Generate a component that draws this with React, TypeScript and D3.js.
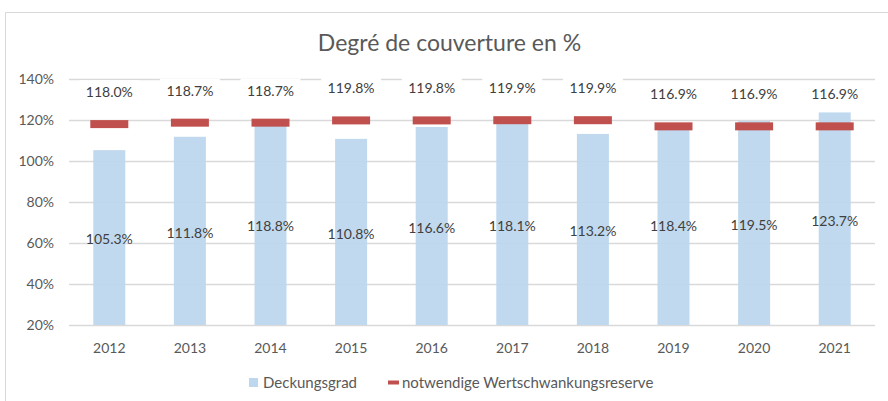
import React from "react";
import * as d3 from "d3";

const years = ["2012", "2013", "2014", "2015", "2016", "2017", "2018", "2019", "2020", "2021"];
const deckungsgrad = [105.3, 111.8, 118.8, 110.8, 116.6, 118.1, 113.2, 118.4, 119.5, 123.7];
const reserve = [118.0, 118.7, 118.7, 119.8, 119.8, 119.9, 119.9, 116.9, 116.9, 116.9];
const yTicks = [20, 40, 60, 80, 100, 120, 140];

const W = 888;
const H = 401;
const FONT = "Lato, 'Open Sans', sans-serif";
const TEXT = "#595959";

export default function App() {
  const x = d3.scaleBand<string>().domain(years).range([69, 875]).paddingInner(0).paddingOuter(0);
  const y = d3.scaleLinear().domain([20, 140]).range([325, 79]);
  const step = x.bandwidth();
  const barW = 32;
  const markW = 38;
  const markH = 8;
  const fmt = (v: number) => v.toFixed(1) + "%";

  return (
    <svg width={W} height={H} style={{ position: "absolute", left: 0, top: 0, background: "#fff" }} fontFamily={FONT}>
      <rect x={0} y={0} width={W} height={H} fill="#fff" />
      <line x1={5.5} y1={12.5} x2={W} y2={12.5} stroke="#d9d9d9" />
      <line x1={5.5} y1={12.5} x2={5.5} y2={H} stroke="#d9d9d9" />
      <text x={449.5} y={43} dy="0.35em" textAnchor="middle" fontSize={23} fill={TEXT}>Degré de couverture en %</text>

      {yTicks.map((t) => (
        <g key={t}>
          <line x1={69} x2={875} y1={Math.round(y(t)) + 0.5} y2={Math.round(y(t)) + 0.5} stroke="#d9d9d9" strokeWidth={1.3} />
          <text x={54} y={y(t)} dy="0.35em" textAnchor="end" fontSize={14} fill={TEXT}>{t}%</text>
        </g>
      ))}

      {years.map((yr, i) => {
        const cx = (x(yr) as number) + step / 2;
        return (
          <g key={yr}>
            <rect x={cx - barW / 2} y={y(deckungsgrad[i])} width={barW} height={y(20) - y(deckungsgrad[i])} fill="#bdd7ee" fillOpacity={0.95} />
            <text x={cx} y={(y(deckungsgrad[i]) + y(20)) / 2 + 2} dy="0.35em" textAnchor="middle" fontSize={14} fill="#404040">{fmt(deckungsgrad[i])}</text>
          </g>
        );
      })}

      {years.map((yr, i) => {
        const cx = (x(yr) as number) + step / 2;
        const my = y(reserve[i]);
        return (
          <g key={"r" + yr}>
            <rect x={cx - markW / 2} y={my - markH / 2} width={markW} height={markH} fill="#c0504d" />
            <rect x={cx - 30} y={my - 32 - 12} width={60} height={24} fill="#fff" />
            <text x={cx} y={my - 32} dy="0.35em" textAnchor="middle" fontSize={14} fill="#404040">{fmt(reserve[i])}</text>
          </g>
        );
      })}

      {years.map((yr) => (
        <text key={"t" + yr} x={(x(yr) as number) + step / 2} y={348} dy="0.35em" textAnchor="middle" fontSize={14} fill={TEXT}>{yr}</text>
      ))}

      <rect x={249} y={378} width={9} height={9} fill="#bdd7ee" />
      <text x={263} y={382.5} dy="0.35em" fontSize={15} fill={TEXT}>Deckungsgrad</text>
      <rect x={388} y={380.5} width={11} height={4} fill="#c0504d" />
      <text x={402} y={382.5} dy="0.35em" fontSize={15} fill={TEXT}>notwendige Wertschwankungsreserve</text>
    </svg>
  );
}
